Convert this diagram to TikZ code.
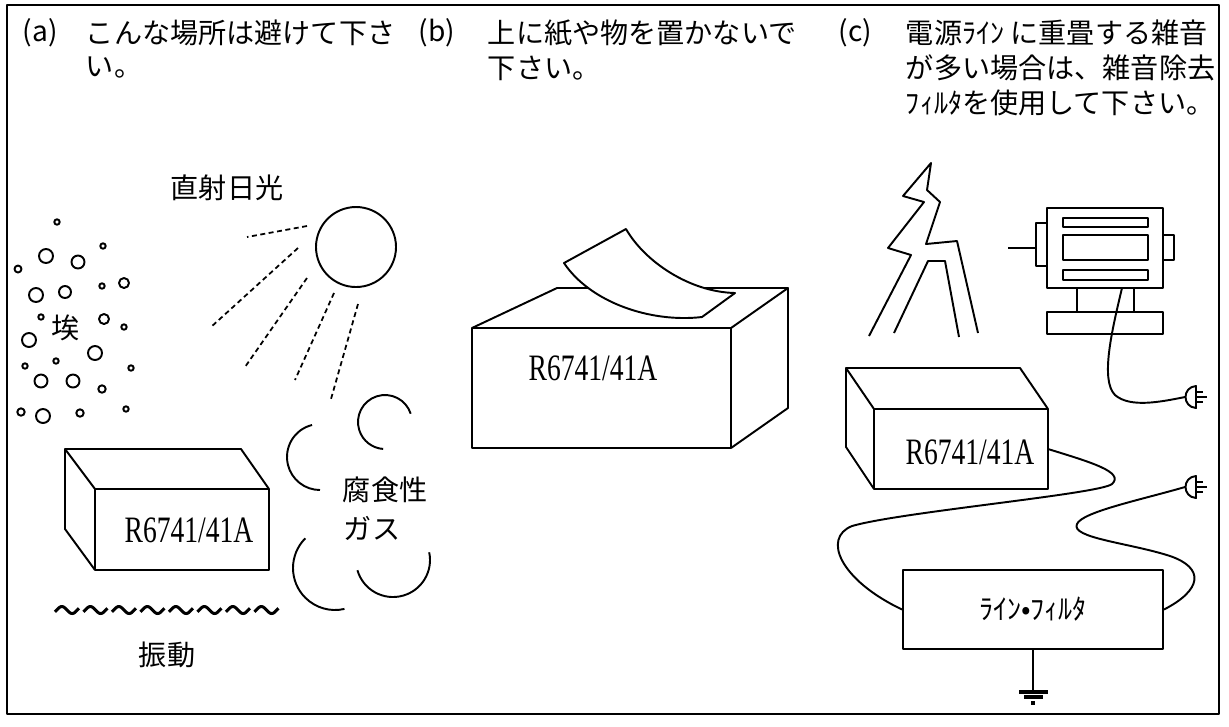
\documentclass[tikz,border=0pt]{standalone}
\usepackage{fontspec}
\setmainfont{Noto Sans CJK JP}
\newfontfamily\modelfont[FakeStretch=0.74]{Liberation Serif}
\usepackage{tikz}
\usetikzlibrary{positioning}
\usetikzlibrary{calc}

\tikzset{
  caption/.style={anchor=west, inner sep=0pt, font=\fontsize{8}{10}\selectfont},
  model/.style={inner sep=0pt, font=\modelfont\fontsize{10.6}{12}\selectfont},
  ray/.style={line width=0.5pt, dash pattern=on 0.5mm off 0.35mm},
}

\begin{document}
\begin{tikzpicture}[x=0.1mm, y=-0.1mm, line width=0.55pt, line join=round]
 \useasboundingbox (0,0) rectangle (1229,726);
 \draw (7,5) rectangle (1219,714);

 %headings
 \node[caption] (tagA) at (22,33) {(a)};
 \node[caption] (txtA1) at (85,33) {こんな場所は避けて下さ};
 \node[caption] (txtA2) at (85,68) {い。};
 \node[caption] (tagB) at (418,33) {(b)};
 \node[caption] (txtB1) at (487,33) {上に紙や物を置かないで};
 \node[caption] (txtB2) at (487,68) {下さい。};
 \node[caption] (tagC) at (838,33) {(c)};
 \node[caption] (txtC1) at (905,33) {電源ﾗｲﾝ に重畳する雑音};
 \node[caption] (txtC2) at (905,68) {が多い場合は、雑音除去};
 \node[caption] (txtC3) at (905,103) {ﾌｨﾙﾀを使用して下さい。};

 %(a) dust
 \foreach \x/\y/\r in {57/222/2.7, 46/256/7, 78/262/6.5, 103/246/2.7, 18/269/3.5,
        36/295/7, 65/292/6, 102/286/2.7, 124/283/5, 41/317/2.7, 104/319/5,
        124/327/2.7, 29/340/7, 95/353/7, 56/361/2.7, 25/366/2.7, 131/368/2.7,
        41/381/6.5, 73/381/6.5, 102/389/3.7, 21/412/3.7, 43/416/7, 80/413/3.7,
        126/409/2.7} {
   \draw (\x,\y) circle (\r);
 }
 \node[caption, anchor=center] (dust) at (66,328) {埃};

 %(a) sun
 \node[draw, circle, inner sep=0pt, minimum size=8mm] (sun) at (356,247) {};
 \node[caption, anchor=center] (sunlbl) at (227,188) {直射日光};
 \draw[ray] (307,226) -- (247,237);
 \draw[ray] (298,248) -- (211,327);
 \draw[ray] (307,278) -- (245,367);
 \draw[ray] (334,293) -- (295,380);
 \draw[ray] (358,304) -- (331,399);

 %(a) gas
 \draw (385,422) ++(-18:27) arc [start angle=-18, end angle=-266, radius=27];
 \draw (320,457) ++(-104:33) arc [start angle=-104, end angle=-270, radius=33];
 \draw (335,568) ++(-135:42) arc [start angle=-135, end angle=-283, radius=42];
 \draw (393,560) ++(-196:37) arc [start angle=-196, end angle=-372, radius=37];
 \node[caption] (gas1) at (342,490) {腐食性};
 \node[caption] (gas2) at (343,528) {ガス};

 %(a) box
 \draw (95,489) rectangle (269,570);
 \draw (95,489) -- (65,449) -- (241,449) -- (269,489);
 \draw (65,449) -- (65,529) -- (95,570);
 \node[model] (labA) at (189,530) {R6741/41A};

 %(a) vibration
 \foreach \i in {0,...,7} {
   \draw[line width=0.85pt] plot[variable=\t, domain=-30:390, samples=30, smooth]
        ({55+28.5*\i+24*(\t+30)/420}, {610-3.5*sin(\t)});
 }
 \node[caption, anchor=center] (vib) at (167,655) {振動};

 %(b) box
 \draw (472,328) rectangle (731,448);
 \draw (472,328) -- (557,288) -- (788,288) -- (731,328);
 \draw (788,288) -- (788,408) -- (731,448);
 \node[model] (labB) at (593,368) {R6741/41A};
 %paper
 \draw[fill=white] (564,263) -- (626,229) .. controls (645,262) and (690,292) .. (735,293)
        -- (702,317) .. controls (650,323) and (590,302) .. cycle;

 %(c) lightning
 \draw (869,336) -- (911,255) -- (888,248) -- (924,202) -- (903,196) -- (931,163)
       -- (927,190) -- (940,202) -- (926,244) -- (957,241) -- (978,333);
 \draw (894,333) -- (928,261) -- (945,261) -- (959,337);

 %(c) motor
 \draw (1047,208) rectangle (1163,288);
 \draw (1063,218) rectangle (1148,227);
 \draw (1063,235) rectangle (1148,260);
 \draw (1063,270) rectangle (1148,280);
 \draw (1047,223) -- (1036,223) -- (1036,266) -- (1047,266);
 \draw (1163,235) -- (1174,235) -- (1174,260) -- (1163,260);
 \draw[line width=0.3pt] (1008,248) -- (1036,248);
 \draw (1077,288) -- (1077,312);
 \draw (1134,288) -- (1134,312);
 \draw (1047,312) rectangle (1163,334);
 \coordinate (motor) at (1122,288);

 %plugs
 \foreach \name/\py in {plugU/397, plugL/487} {
   \coordinate (\name) at (1185,\py);
   \draw (1196,\py-11) .. controls (1182,\py-10) and (1182,\py+10) .. (1196,\py+11) -- cycle;
   \draw (1196,\py-5) -- (1203,\py-5);
   \draw (1196,\py) -- (1207,\py);
   \draw (1196,\py+5) -- (1203,\py+5);
 }

 %(c) box
 \draw (874,409) rectangle (1048,489);
 \draw (874,409) -- (846,368) -- (1020,368) -- (1048,409);
 \draw (846,368) -- (846,447) -- (874,489);
 \node[model] (labC) at (970,452) {R6741/41A};
 \coordinate (devC) at (1048,449);

 %line filter
 \node[draw, inner sep=0pt, minimum width=26mm, minimum height=7.9mm,
       font=\fontsize{8}{10}\selectfont] (filter) at (1033,609.5) {ﾗｲﾝ•ﾌｨﾙﾀ};

 %cords
 \draw (motor) .. controls (1112,330) and (1100,380) .. (1115,395)
       .. controls (1130,408) and (1160,402) .. (plugU);
 \draw (devC) .. controls (1090,462) and (1125,472) .. (1112,484)
       .. controls (1100,494) and (900,512) .. (852,526)
       .. controls (822,538) and (840,580) .. (filter.west);
 \draw (filter.east) .. controls (1202,590) and (1205,568) .. (1170,556)
       .. controls (1130,543) and (1070,538) .. (1077,524)
       .. controls (1082,512) and (1140,500) .. (plugL);

 %earth
 \draw (filter.south) -- ++(0,41) coordinate (gnd);
 \draw[line width=1pt] ($(gnd)+(-14,1)$) -- ++(29,0);
 \draw[line width=1pt] ($(gnd)+(-9,6)$) -- ++(19,0);
 \draw[line width=1pt] ($(gnd)+(-2,12)$) -- ++(4,0);

\end{tikzpicture}
\end{document}
